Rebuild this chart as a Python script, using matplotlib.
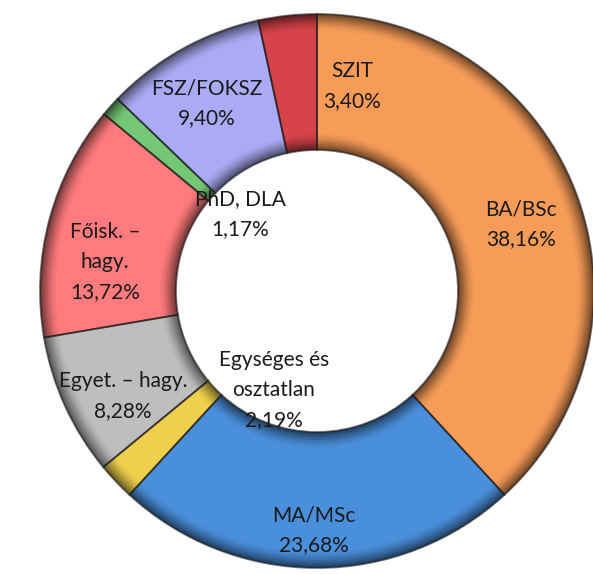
import matplotlib.pyplot as plt
from matplotlib.colors import to_rgb

# data, clockwise from 12 o'clock
categories = ["BA/BSc", "MA/MSc", "Egységes és\nosztatlan", "Egyet. – hagy.",
              "Főisk. –\nhagy.", "PhD, DLA", "FSZ/FOKSZ", "SZIT"]
shares = [38.16, 23.68, 2.19, 8.28, 13.72, 1.17, 9.40, 3.40]
share_labels = ["38,16%", "23,68%", "2,19%", "8,28%", "13,72%", "1,17%", "9,40%", "3,40%"]

colors = ["#F79C58", "#4A8FDB", "#EFCF4C", "#BEBEBE",
          "#FF7B7D", "#74C774", "#ABABF5", "#D7434A"]

# label block centres in pixels (x, y from top)
label_pos = [(521, 224), (314, 530), (274, 390), (123, 396),
             (105, 262), (240, 214), (207, 103), (352, 86)]

W, H = 593, 574
cx, cy = 317, 291
R_out, R_in = 277, 141


def shade(c, f):
    r, g, b = to_rgb(c)
    return (r * f, g * f, b * f)


fig = plt.figure(figsize=(W / 100, H / 100), dpi=100)
ax = fig.add_axes([0, 0, 1, 1])

center = (cx, H - cy)
width = R_out - R_in

# bevel: stacked rings getting lighter toward the face
steps = [(0, 0.45), (2, 0.55), (4, 0.64), (6, 0.72), (8, 0.8),
         (10, 0.87), (12, 0.93), (14, 0.97)]
for inset, f in steps:
    ax.pie(shares, colors=[shade(c, f) for c in colors], startangle=90,
           counterclock=False, center=center, radius=R_out - inset, frame=True,
           wedgeprops=dict(width=width - 2 * inset, edgecolor="none"))
# face with separators
ax.pie(shares, colors=colors, startangle=90,
       counterclock=False, center=center, radius=R_out - 16, frame=True,
       wedgeprops=dict(width=width - 32, edgecolor="none"))
ax.pie(shares, colors=["none"] * len(shares), startangle=90,
       counterclock=False, center=center, radius=R_out, frame=True,
       wedgeprops=dict(width=width, edgecolor=(0.1, 0.1, 0.1, 0.6), linewidth=1.3))

ax.set_xlim(0, W)
ax.set_ylim(0, H)
ax.set_aspect("equal")
ax.axis("off")

for name, lab, (x, y) in zip(categories, share_labels, label_pos):
    ax.text(x, H - y, f"{name}\n{lab}", ha="center", va="center",
            fontsize=15, family=["Lato", "DejaVu Sans"], color="#1a1a1a",
            linespacing=1.6)

fig.savefig("out.png", dpi=100)
